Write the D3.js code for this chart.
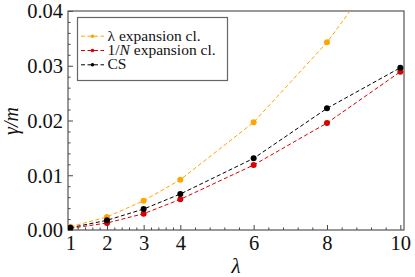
<!DOCTYPE html>
<html>
<head>
<meta charset="utf-8">
<script src="https://cdn.jsdelivr.net/npm/d3@7"></script>
<style>
    body { margin: 0; background: #fff; }
    svg { display: block; }
    text { font-family: "Liberation Serif", "DejaVu Serif", serif; fill: #111; }
</style>
</head>
<body>
<div id="chart"></div>
<script>
var lambdas = [1, 2, 3, 4, 6, 8, 10];
var lambdaExp = [0.0006, 0.00237, 0.00535, 0.00918, 0.01967, 0.03427, 0.0525];
var invNExp = [0.0003, 0.00128, 0.00298, 0.0056, 0.01187, 0.01954, 0.0289];
var csVals = [0.00042, 0.00177, 0.00383, 0.00657, 0.01309, 0.02222, 0.02964];
var xTicks = [1, 2, 3, 4, 6, 8, 10];
var yTicks = [0, 0.01, 0.02, 0.03, 0.04];
var seriesNames = ['\u03bb expansion cl.', '1/N expansion cl.', 'CS'];

var width = 415, height = 277,
    plotLeft = 68, plotRight = 404, plotTop = 11, plotBottom = 230;

var series = [
    {name: seriesNames[0], values: lambdaExp, color: '#ffa500'},
    {name: seriesNames[1], values: invNExp, color: '#d90000'},
    {name: seriesNames[2], values: csVals, color: '#000000'}
];

var svg = d3.select('#chart').append('svg')
    .attr('width', width)
    .attr('height', height);

var x = d3.scaleLinear().domain([0.937, 10.1]).range([plotLeft, plotRight]),
    y = d3.scaleLinear().domain([0, 0.04]).range([plotBottom, plotTop]);

svg.append('defs').append('clipPath').attr('id', 'plot_clip')
    .append('rect')
    .attr('x', plotLeft).attr('y', plotTop)
    .attr('width', plotRight - plotLeft).attr('height', plotBottom - plotTop);

// minor ticks: each major interval split in 5 (mathematica style)
var xMinor = [];
for (var i = 0; i < xTicks.length - 1; i++) {
    var step = (xTicks[i + 1] - xTicks[i]) / 5;
    for (var k = 1; k < 5; k++) xMinor.push(xTicks[i] + step * k);
}
var yMinor = [];
for (var j = 0; j < yTicks.length - 1; j++) {
    for (var m = 1; m < 5; m++) yMinor.push(yTicks[j] + (yTicks[j + 1] - yTicks[j]) * m / 5);
}

var xAxis = svg.append('g')
    .attr('transform', 'translate(0,' + plotBottom + ')')
    .call(d3.axisBottom(x).tickValues(xTicks).tickSizeInner(-5).tickSizeOuter(0).tickPadding(0)
        .tickFormat(d3.format('d')));
xAxis.select('.domain').remove();
xAxis.selectAll('.tick line').attr('stroke', '#444');
xAxis.selectAll('.tick text')
    .attr('y', 20).attr('dy', null)
    .style('font-size', '20.5px')
    .style('fill', '#111');

var xMinorAxis = svg.append('g')
    .attr('transform', 'translate(0,' + plotBottom + ')')
    .call(d3.axisBottom(x).tickValues(xMinor).tickSizeInner(-2.5).tickSizeOuter(0).tickFormat(''));
xMinorAxis.select('.domain').remove();
xMinorAxis.selectAll('.tick line').attr('stroke', '#444');

var yAxis = svg.append('g')
    .attr('transform', 'translate(' + plotLeft + ',0)')
    .call(d3.axisLeft(y).tickValues(yTicks).tickSizeInner(-5).tickSizeOuter(0).tickPadding(0)
        .tickFormat(d3.format('.2f')));
yAxis.select('.domain').remove();
yAxis.selectAll('.tick line').attr('stroke', '#444');
yAxis.selectAll('.tick text')
    .attr('x', -5)
    .attr('dy', '0.34em')
    .style('font-size', '20.5px')
    .style('fill', '#111');

var yMinorAxis = svg.append('g')
    .attr('transform', 'translate(' + plotLeft + ',0)')
    .call(d3.axisLeft(y).tickValues(yMinor).tickSizeInner(-2.5).tickSizeOuter(0).tickFormat(''));
yMinorAxis.select('.domain').remove();
yMinorAxis.selectAll('.tick line').attr('stroke', '#444');

// frame
svg.append('rect')
    .attr('x', plotLeft).attr('y', plotTop)
    .attr('width', plotRight - plotLeft).attr('height', plotBottom - plotTop)
    .attr('fill', 'none')
    .attr('stroke', '#555')
    .attr('stroke-width', 1.2);

var plot = svg.append('g').attr('clip-path', 'url(#plot_clip)');

var line = d3.line()
    .x(function(d, i) { return x(lambdas[i]); })
    .y(function(d) { return y(d); });

series.forEach(function(s) {
    plot.append('path')
        .datum(s.values)
        .attr('d', line)
        .attr('fill', 'none')
        .attr('stroke', s.color)
        .attr('stroke-width', 1)
        .attr('stroke-dasharray', '4,2.5');
});

series.forEach(function(s) {
    plot.selectAll(null)
        .data(s.values).enter()
        .append('circle')
        .attr('cx', function(d, i) { return x(lambdas[i]); })
        .attr('cy', function(d) { return y(d); })
        .attr('r', 3)
        .attr('fill', s.color);
});

// legend
var legend = svg.append('g');
legend.append('rect')
    .attr('x', 77.5).attr('y', 17.5)
    .attr('width', 150).attr('height', 63)
    .attr('fill', '#fff')
    .attr('stroke', '#666')
    .attr('stroke-width', 1.2);

series.forEach(function(s, i) {
    var base = 40.7 + i * 14.3,
        cy = base - 4.5;
    legend.append('line')
        .attr('x1', 81).attr('x2', 104)
        .attr('y1', cy).attr('y2', cy)
        .attr('stroke', s.color)
        .attr('stroke-width', 1)
        .attr('stroke-dasharray', '4,2.5');
    legend.append('circle')
        .attr('cx', 92.5).attr('cy', cy).attr('r', 1.8)
        .attr('fill', s.color);
    var t = legend.append('text')
        .attr('x', 107.5).attr('y', base)
        .style('font-size', '15.5px');
    // N is a math symbol in the original
    var nIdx = s.name.indexOf('N');
    if (nIdx >= 0) {
        t.append('tspan').text(s.name.substring(0, nIdx));
        t.append('tspan').style('font-style', 'italic').text('N');
        t.append('tspan').text(s.name.substring(nIdx + 1));
    } else {
        t.text(s.name);
    }
});

// axis labels
svg.append('text')
    .attr('x', 236).attr('y', 273)
    .attr('text-anchor', 'middle')
    .style('font-size', '21px')
    .style('font-style', 'italic')
    .text('\u03bb');

svg.append('text')
    .attr('transform', 'translate(18,121) rotate(-90)')
    .attr('text-anchor', 'middle')
    .style('font-size', '20px')
    .style('font-style', 'italic')
    .text('\u03b3/m');
</script>
</body>
</html>
